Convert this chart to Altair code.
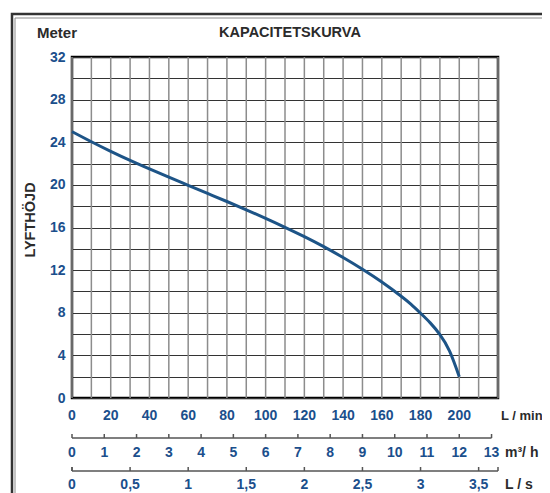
import altair as alt
import pandas as pd

# ---- data ----
flow_lpm = [0, 10, 20, 30, 40, 50, 60, 70, 80, 90, 100, 110, 120, 130, 140, 150,
            160, 170, 175, 180, 185, 190, 195, 200]
head_m = [25.0, 24.05, 23.15, 22.3, 21.5, 20.72, 19.96, 19.2, 18.44, 17.66, 16.86, 16.02,
          15.14, 14.2, 13.18, 12.08, 10.88, 9.55, 8.8, 7.95, 7.05, 5.95, 4.4, 2.0]

x_grid_lpm = list(range(0, 221, 10))
x_labels_lpm = list(range(0, 201, 20))
y_grid_m = list(range(0, 33, 2))
m3h_ticks = list(range(0, 14))
m3h_labels = [str(v) for v in m3h_ticks]
ls_ticks = [0, 0.5, 1, 1.5, 2, 2.5, 3, 3.5]
ls_labels = ["0", "0,5", "1", "1,5", "2", "2,5", "3", "3,5"]

BLUE = "#1b4f8c"
CURVE = "#1d5487"
DARK = "#2b2b2b"
FONT = "Liberation Sans"
FS = 14

xscale = alt.Scale(domain=[0, 220], nice=False, zero=False)
yscale = alt.Scale(domain=[0, 32], nice=False)

one = pd.DataFrame({"k": [0]})

# outer double frame (decoration)
frame_outer = alt.Chart(one).mark_rect(fill="white", fillOpacity=0, stroke="#333333", strokeWidth=2.5).encode(
    x=alt.value(-60), x2=alt.value(620), y=alt.value(-43), y2=alt.value(600))
frame_inner = alt.Chart(one).mark_rect(fill="white", fillOpacity=0, stroke="#8a8a8a", strokeWidth=1).encode(
    x=alt.value(-57), x2=alt.value(620), y=alt.value(-39), y2=alt.value(600))

# vertical grid (flow, L/min)
vgrid = alt.Chart(pd.DataFrame({"q": x_grid_lpm})).mark_rule(color="#8c8c8c", strokeWidth=1.5).encode(
    x=alt.X("q:Q", scale=xscale, axis=None), y=alt.value(0), y2=alt.value(341))

curve_df = pd.DataFrame({"q": flow_lpm, "h": head_m})
curve = alt.Chart(curve_df).mark_line(color=CURVE, strokeWidth=3, interpolate="natural").encode(
    x=alt.X("q:Q", scale=xscale, axis=None),
    y=alt.Y("h:Q", scale=yscale, axis=alt.Axis(
        values=y_grid_m, grid=True, gridColor="#333333", gridWidth=1, ticks=False, domain=False,
        labelExpr="datum.value % 4 == 0 ? datum.label : ''",
        labelFont=FONT, labelFontSize=FS, labelFontWeight="bold", labelColor=BLUE,
        labelPadding=7, labelOverlap=False, labelFlush=False, title=None)),
)

# primary flow labels (L/min)
lpm_df = pd.DataFrame({"q": x_labels_lpm, "lab": [str(v) for v in x_labels_lpm]})
lpm_text = alt.Chart(lpm_df).mark_text(font=FONT, fontSize=FS, fontWeight="bold", color=BLUE,
                                       baseline="middle", align="center").encode(
    x=alt.X("q:Q", scale=xscale, axis=None), y=alt.value(359), text="lab:N")

# secondary scale: m3/h
m3h_df = pd.DataFrame({"q": [v * 1000 / 60 for v in m3h_ticks], "lab": m3h_labels})
m3h_line_df = pd.DataFrame({"q": [0], "q2": [m3h_ticks[-1] * 1000 / 60]})
m3h_line = alt.Chart(m3h_line_df).mark_rule(color="#555555", strokeWidth=1.5).encode(
    x=alt.X("q:Q", scale=xscale, axis=None), x2="q2:Q", y=alt.value(381))
m3h_tick = alt.Chart(m3h_df).mark_rule(color="#555555", strokeWidth=1.5).encode(
    x=alt.X("q:Q", scale=xscale, axis=None), y=alt.value(377), y2=alt.value(381))
m3h_text = alt.Chart(m3h_df).mark_text(font=FONT, fontSize=FS, fontWeight="bold", color=BLUE,
                                       baseline="middle", align="center").encode(
    x=alt.X("q:Q", scale=xscale, axis=None), y=alt.value(396), text="lab:N")

# secondary scale: L/s
ls_df = pd.DataFrame({"q": [v * 60 for v in ls_ticks], "lab": ls_labels})
ls_end_df = pd.DataFrame({"q": [0, 220]})
ls_line_df = pd.DataFrame({"q": [0], "q2": [220]})
ls_line = alt.Chart(ls_line_df).mark_rule(color="#555555", strokeWidth=1.5).encode(
    x=alt.X("q:Q", scale=xscale, axis=None), x2="q2:Q", y=alt.value(414))
ls_tick = alt.Chart(ls_df).mark_rule(color="#555555", strokeWidth=1.5).encode(
    x=alt.X("q:Q", scale=xscale, axis=None), y=alt.value(410), y2=alt.value(414))
ls_end = alt.Chart(ls_end_df).mark_rule(color="#555555", strokeWidth=1.5).encode(
    x=alt.X("q:Q", scale=xscale, axis=None), y=alt.value(410), y2=alt.value(414))
ls_text = alt.Chart(ls_df).mark_text(font=FONT, fontSize=FS, fontWeight="bold", color=BLUE,
                                     baseline="middle", align="center").encode(
    x=alt.X("q:Q", scale=xscale, axis=None), y=alt.value(428), text="lab:N")


def label(txt, x, y, align="left", angle=0, size=13, color=DARK):
    return alt.Chart(pd.DataFrame({"t": [txt]})).mark_text(
        font=FONT, fontSize=size, fontWeight="bold", color=color, align=align,
        baseline="middle", angle=angle).encode(x=alt.value(x), y=alt.value(y), text="t:N")


texts = [
    label("Meter", -15, -24, align="center", size=15),
    label("KAPACITETSKURVA", 218, -24, align="center", size=14.5),
    label("LYFTHÖJD", -41, 163, align="center", angle=270, size=14.5),
    label("L / min", 429, 359, size=13),
    label("m³/ h", 433, 396, size=14),
    label("L / s", 433, 428, size=14),
]

chart = alt.layer(
    frame_outer, frame_inner, vgrid, curve, lpm_text,
    m3h_line, m3h_tick, m3h_text,
    ls_line, ls_tick, ls_end, ls_text,
    *texts,
).properties(
    width=426, height=341,
    padding={"left": 64, "top": 49, "right": 44, "bottom": 95},
    autosize=alt.AutoSizeParams(type="none"),
    background="white",
).configure_view(stroke="black", strokeWidth=2.5)

chart.save("out.html", embed_options={"renderer": "svg", "actions": False})
